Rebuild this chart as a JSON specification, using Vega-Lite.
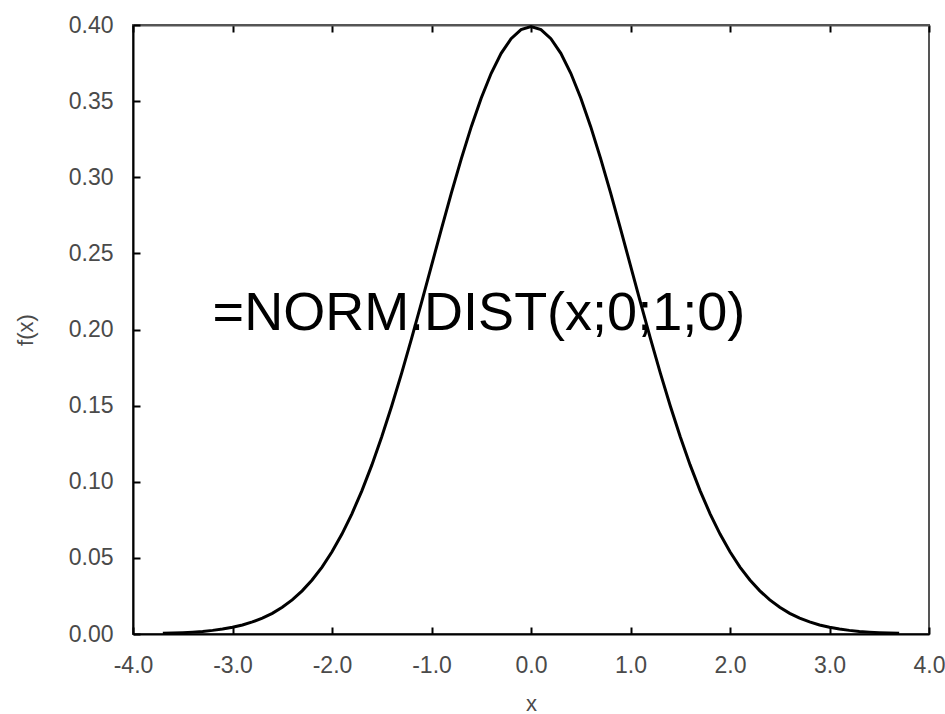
{
  "$schema": "https://vega.github.io/schema/vega-lite/v6.json",
  "width": 796,
  "height": 609,
  "autosize": "none",
  "padding": {"left": 133, "top": 25, "right": 16, "bottom": 80},
  "background": "white",
  "config": {
    "view": {"stroke": "#555555", "strokeWidth": 2},
    "font": "Liberation Sans",
    "axis": {
      "labelFont": "Liberation Sans",
      "titleFont": "Liberation Sans",
      "labelFontSize": 23,
      "titleFontSize": 22,
      "labelColor": "#4a4a4a",
      "titleColor": "#4a4a4a",
      "titleFontWeight": "normal",
      "grid": false,
      "tickColor": "#000000",
      "domainColor": "#000000",
      "domainWidth": 2,
      "tickWidth": 2
    }
  },
  "datasets": {
    "curve": [
      {"x": -3.7, "fx": 0.00042},
      {"x": -3.6, "fx": 0.00061},
      {"x": -3.5, "fx": 0.00087},
      {"x": -3.4, "fx": 0.00123},
      {"x": -3.3, "fx": 0.00172},
      {"x": -3.2, "fx": 0.00238},
      {"x": -3.1, "fx": 0.00327},
      {"x": -3.0, "fx": 0.00443},
      {"x": -2.9, "fx": 0.00595},
      {"x": -2.8, "fx": 0.00792},
      {"x": -2.7, "fx": 0.01042},
      {"x": -2.6, "fx": 0.01358},
      {"x": -2.5, "fx": 0.01753},
      {"x": -2.4, "fx": 0.02239},
      {"x": -2.3, "fx": 0.02833},
      {"x": -2.2, "fx": 0.03547},
      {"x": -2.1, "fx": 0.04398},
      {"x": -2.0, "fx": 0.05399},
      {"x": -1.9, "fx": 0.06562},
      {"x": -1.8, "fx": 0.07895},
      {"x": -1.7, "fx": 0.09405},
      {"x": -1.6, "fx": 0.11092},
      {"x": -1.5, "fx": 0.12952},
      {"x": -1.4, "fx": 0.14973},
      {"x": -1.3, "fx": 0.17137},
      {"x": -1.2, "fx": 0.19419},
      {"x": -1.1, "fx": 0.21785},
      {"x": -1.0, "fx": 0.24197},
      {"x": -0.9, "fx": 0.26609},
      {"x": -0.8, "fx": 0.28969},
      {"x": -0.7, "fx": 0.31225},
      {"x": -0.6, "fx": 0.33322},
      {"x": -0.5, "fx": 0.35207},
      {"x": -0.4, "fx": 0.36827},
      {"x": -0.3, "fx": 0.38139},
      {"x": -0.2, "fx": 0.39104},
      {"x": -0.1, "fx": 0.39695},
      {"x": 0.0, "fx": 0.39894},
      {"x": 0.1, "fx": 0.39695},
      {"x": 0.2, "fx": 0.39104},
      {"x": 0.3, "fx": 0.38139},
      {"x": 0.4, "fx": 0.36827},
      {"x": 0.5, "fx": 0.35207},
      {"x": 0.6, "fx": 0.33322},
      {"x": 0.7, "fx": 0.31225},
      {"x": 0.8, "fx": 0.28969},
      {"x": 0.9, "fx": 0.26609},
      {"x": 1.0, "fx": 0.24197},
      {"x": 1.1, "fx": 0.21785},
      {"x": 1.2, "fx": 0.19419},
      {"x": 1.3, "fx": 0.17137},
      {"x": 1.4, "fx": 0.14973},
      {"x": 1.5, "fx": 0.12952},
      {"x": 1.6, "fx": 0.11092},
      {"x": 1.7, "fx": 0.09405},
      {"x": 1.8, "fx": 0.07895},
      {"x": 1.9, "fx": 0.06562},
      {"x": 2.0, "fx": 0.05399},
      {"x": 2.1, "fx": 0.04398},
      {"x": 2.2, "fx": 0.03547},
      {"x": 2.3, "fx": 0.02833},
      {"x": 2.4, "fx": 0.02239},
      {"x": 2.5, "fx": 0.01753},
      {"x": 2.6, "fx": 0.01358},
      {"x": 2.7, "fx": 0.01042},
      {"x": 2.8, "fx": 0.00792},
      {"x": 2.9, "fx": 0.00595},
      {"x": 3.0, "fx": 0.00443},
      {"x": 3.1, "fx": 0.00327},
      {"x": 3.2, "fx": 0.00238},
      {"x": 3.3, "fx": 0.00172},
      {"x": 3.4, "fx": 0.00123},
      {"x": 3.5, "fx": 0.00087},
      {"x": 3.6, "fx": 0.00061},
      {"x": 3.7, "fx": 0.00042}
    ],
    "note": [
      {"x": -3.2, "fx": 0.2, "label": "=NORM.DIST(x;0;1;0)"}
    ]
  },
  "layer": [
    {
      "data": {"name": "curve"},
      "mark": {"type": "line", "color": "#000000", "strokeWidth": 3},
      "encoding": {
        "x": {
          "field": "x",
          "type": "quantitative",
          "scale": {"domain": [-4, 4], "nice": false, "zero": false},
          "axis": {
            "orient": "bottom",
            "values": [-4, -3, -2, -1, 0, 1, 2, 3, 4],
            "format": ".1f",
            "labelExpr": "replace(datum.label, '\u2212', '-')",
            "tickSize": -7,
            "labelPadding": 27,
            "title": "x",
            "titlePadding": 16,
            "labelFlush": false
          }
        },
        "y": {
          "field": "fx",
          "type": "quantitative",
          "scale": {"domain": [0, 0.4], "nice": false},
          "axis": {
            "orient": "left",
            "values": [0, 0.05, 0.1, 0.15, 0.2, 0.25, 0.3, 0.35, 0.4],
            "format": ".2f",
            "tickSize": -7,
            "labelPadding": 27,
            "title": "f(x)",
            "titlePadding": 31,
            "labelFlush": false
          }
        }
      }
    },
    {
      "data": {"name": "note"},
      "mark": {"type": "text", "font": "Liberation Sans", "fontSize": 54, "align": "left", "baseline": "alphabetic", "color": "#000000"},
      "encoding": {
        "x": {
          "field": "x",
          "type": "quantitative",
          "axis": {
            "orient": "top",
            "values": [-4, -3, -2, -1, 0, 1, 2, 3, 4],
            "labels": false,
            "title": null,
            "tickSize": -7,
            "domainColor": "#555555"
          }
        },
        "y": {"field": "fx", "type": "quantitative"},
        "text": {"field": "label"}
      }
    }
  ]
}
